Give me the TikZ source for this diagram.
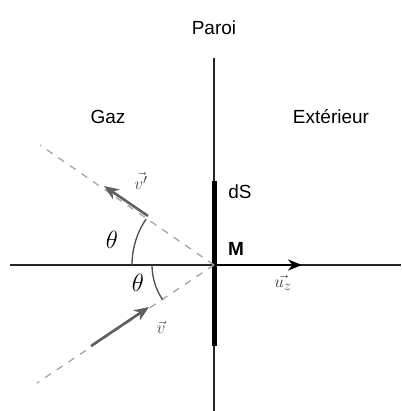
\documentclass[tikz,border=0pt]{standalone}
\usepackage{fontspec}
\setmainfont{Liberation Sans}
\usetikzlibrary{arrows.meta}
\begin{document}
\begin{tikzpicture}[x=1pt,y=-1pt,
        lbl/.style={font=\fontsize{19}{22}\selectfont},
        anglbl/.style={font=\fontsize{23}{26}\selectfont},
        ray/.style={gray!70,line width=1.3pt,dash pattern=on 7pt off 7pt},
        vecarrow/.style={gray!75!black,line width=2.6pt,-{Stealth[length=15pt,width=12pt]}},
        angarc/.style={gray!60!black,line width=1.3pt}]
        \useasboundingbox (0,0) rectangle (401,411);
        % axes and wall
        \coordinate (M) at (214,265);
        \coordinate (walltop) at (214,58);
        \coordinate (wallbot) at (214,411);
        \coordinate (dstop) at (214,181);
        \coordinate (dsbot) at (214,346);
        \coordinate (axleft) at (10,265);
        \coordinate (axright) at (401,265);
        \coordinate (uztip) at (302,265);
        \draw[black!85,line width=1.8pt] (walltop) -- (wallbot);
        \draw[line width=5pt] (dstop) -- (dsbot);
        \draw[black!85,line width=1.2pt] (axleft) -- (axright);
        \draw[line width=2.6pt,-{Stealth[length=14pt,width=11pt]}] (M) -- (uztip);
        % rays
        \coordinate (raytop) at (40,145);
        \coordinate (raybot) at (37,383);
        \draw[ray] (M) -- (raytop);
        \draw[ray] (M) -- (raybot);
        \coordinate (vtail) at (91,346);
        \coordinate (vhead) at (149,307);
        \coordinate (vptail) at (148,216);
        \coordinate (vphead) at (104,186);
        \draw[vecarrow] (vtail) -- (vhead);
        \draw[vecarrow] (vptail) -- (vphead);
        % angles
        \draw[angarc] (M) ++(180:82) arc[start angle=180,end angle=214,radius=82];
        \draw[angarc] (M) ++(180:62) arc[start angle=180,end angle=146,radius=62];
        % labels
        \node[lbl] (paroi) at (214,28) {Paroi};
        \node[lbl] (gaz) at (108,117) {Gaz};
        \node[lbl] (ext) at (331,117) {Extérieur};
        \node[lbl] (dS) at (240,192) {dS};
        \node[lbl] (Mlbl) at (236,249) {\textbf{M}};
        \node[lbl,text=gray!50!black] (uz) at (283,283) {$\vec{u_z}$};
        \node[anglbl] (th1) at (112,240) {$\theta$};
        \node[anglbl] (th2) at (138,283) {$\theta$};
        \node[lbl,text=gray!60!black] (vp) at (141,181) {$\vec{v'}$};
        \node[lbl,text=gray!60!black] (v) at (161,327) {$\vec{v}$};
\end{tikzpicture}
\end{document}
